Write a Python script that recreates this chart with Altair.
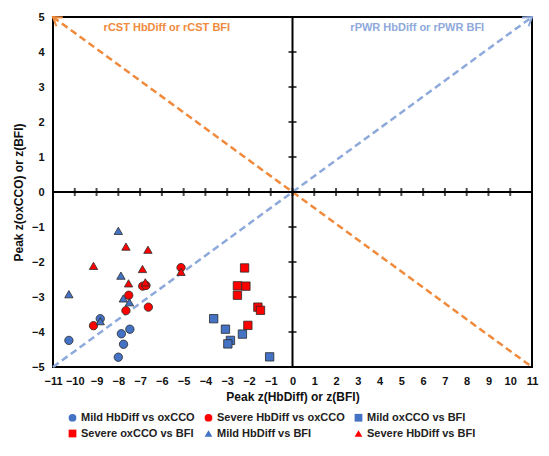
import math
import altair as alt
import pandas as pd

# ---------------- data ----------------
series_names = ["Mild HbDiff vs oxCCO", "Severe HbDiff vs oxCCO", "Mild oxCCO vs BFI",
                "Severe oxCCO vs BFI", "Mild HbDiff vs BFI", "Severe HbDiff vs BFI"]
series_colors = ["#4472C4", "#FF0000", "#4472C4", "#FF0000", "#4472C4", "#FF0000"]
series_shapes = ["circle", "circle", "square", "square", "triangle-up", "triangle-up"]

mild_hb_ox_x = [-8.83, -7.47, -7.86, -10.27, -7.76, -8.00]
mild_hb_ox_y = [-3.62, -3.92, -4.05, -4.24, -4.35, -4.72]
severe_hb_ox_x = [-5.12, -6.88, -6.73, -7.52, -6.62, -7.65, -9.14]
severe_hb_ox_y = [-2.16, -2.69, -2.67, -2.95, -3.29, -3.39, -3.82]
mild_ox_bfi_x = [-3.62, -3.08, -2.30, -2.85, -2.97, -1.05]
mild_ox_bfi_y = [-3.62, -3.92, -4.06, -4.24, -4.34, -4.71]
severe_ox_bfi_x = [-2.20, -2.53, -2.14, -2.53, -1.59, -1.47, -2.05]
severe_ox_bfi_y = [-2.17, -2.68, -2.69, -2.95, -3.29, -3.38, -3.81]
mild_hb_bfi_x = [-8.00, -10.27, -7.88, -7.77, -7.49, -8.83]
mild_hb_bfi_y = [-1.11, -2.92, -2.39, -3.04, -3.15, -3.69]
severe_hb_bfi_x = [-7.65, -6.64, -9.14, -6.89, -7.53, -6.76, -5.12]
severe_hb_bfi_y = [-1.56, -1.65, -2.11, -2.20, -2.61, -2.58, -2.28]

x_ticks = list(range(-11, 12))
y_ticks = list(range(-5, 6))

diag_x = [-11, 11]
orange_y = [5, -5]
blue_y = [-5, 5]

note_labels = ["rCST HbDiff or rCST BFI", "rPWR HbDiff or rPWR BFI"]
note_x = [-5.77, 5.73]
note_y = [4.70, 4.70]

ORANGE = "#F08A3C"
LBLUE = "#8EA9DB"

# ---------------- build tables ----------------
xs = [mild_hb_ox_x, severe_hb_ox_x, mild_ox_bfi_x, severe_ox_bfi_x, mild_hb_bfi_x, severe_hb_bfi_x]
ys = [mild_hb_ox_y, severe_hb_ox_y, mild_ox_bfi_y, severe_ox_bfi_y, mild_hb_bfi_y, severe_hb_bfi_y]
rows = []
for k, (name, sx, sy) in enumerate(zip(series_names, xs, ys)):
    for a, b in zip(sx, sy):
        rows.append({"series": name, "x": a, "y": b, "ord": k})
pts = pd.DataFrame(rows)

W, H = 479, 350
xscale = alt.Scale(domain=[-11, 11], nice=False, zero=False)
yscale = alt.Scale(domain=[-5, 5], nice=False, zero=False)

X = alt.X("x:Q", scale=xscale,
          axis=alt.Axis(values=x_ticks, title="Peak z(HbDiff) or z(BFI)", domain=False,
                        ticks=False, grid=False, labelPadding=8, titlePadding=5, format="d",
                        labelOverlap=False, labelFlush=False))
Y = alt.Y("y:Q", scale=yscale,
          axis=alt.Axis(values=y_ticks, title="Peak z(oxCCO) or z(BFI)", domain=False,
                        ticks=False, grid=False, labelPadding=9, titlePadding=6, format="d",
                        labelOverlap=False, labelFlush=False))

orange_df = pd.DataFrame({"x": diag_x, "y": orange_y})
blue_df = pd.DataFrame({"x": diag_x, "y": blue_y})
diag_o = alt.Chart(orange_df).mark_line(strokeDash=[7, 4], strokeWidth=2.5, color=ORANGE).encode(x=X, y=Y)
diag_b = alt.Chart(blue_df).mark_line(strokeDash=[7, 4], strokeWidth=2.5, color=LBLUE).encode(x=X, y=Y)

zero_df = pd.DataFrame({"x": [0], "y": [0]})
vrule = alt.Chart(zero_df).mark_rule(color="black", strokeWidth=2).encode(x=X)
hrule = alt.Chart(zero_df).mark_rule(color="black", strokeWidth=2).encode(y=Y)

xt_df = pd.DataFrame({"x": x_ticks, "y": [0] * len(x_ticks)})
yt_df = pd.DataFrame({"x": [0] * len(y_ticks), "y": y_ticks})
xt = alt.Chart(xt_df).mark_tick(orient="vertical", size=8, thickness=2, color="black").encode(x=X, y=Y)
yt = alt.Chart(yt_df).mark_tick(orient="horizontal", size=8, thickness=2, color="black").encode(x=X, y=Y)

points = alt.Chart(pts).mark_point(filled=True, size=70, stroke="#2b2b2b", strokeWidth=0.8,
                                   opacity=1).encode(
    x=X, y=Y,
    color=alt.Color("series:N", scale=alt.Scale(domain=series_names, range=series_colors),
                    legend=alt.Legend(title=None, orient="none", legendX=14, legendY=395,
                                      columns=3, direction="horizontal", columnPadding=8,
                                      rowPadding=4, labelFontSize=11, labelFontWeight="bold",
                                      labelColor="#222222", symbolSize=60, symbolStrokeWidth=0,
                                      labelOffset=3, padding=0, labelLimit=200)),
    shape=alt.Shape("series:N", scale=alt.Scale(domain=series_names, range=series_shapes)),
    order=alt.Order("ord:Q"),
)

ang = math.degrees(math.atan2(11 * W / 22, 5 * H / 10))
CHEV = "M -1 1.5 L 0 0 L 1 1.5"
arrow_o = alt.Chart(pd.DataFrame({"x": [diag_x[0]], "y": [orange_y[0]]})).mark_point(
    shape=CHEV, filled=False, size=120, strokeWidth=2, stroke=ORANGE, opacity=1,
    angle=360 - ang).encode(x=X, y=Y)
arrow_b = alt.Chart(pd.DataFrame({"x": [diag_x[1]], "y": [blue_y[1]]})).mark_point(
    shape=CHEV, filled=False, size=120, strokeWidth=2, stroke=LBLUE, opacity=1,
    angle=ang).encode(x=X, y=Y)

notes_o = alt.Chart(pd.DataFrame({"x": [note_x[0]], "y": [note_y[0]], "t": [note_labels[0]]})).mark_text(
    fontSize=11, fontWeight="bold", color=ORANGE).encode(x=X, y=Y, text="t:N")
notes_b = alt.Chart(pd.DataFrame({"x": [note_x[1]], "y": [note_y[1]], "t": [note_labels[1]]})).mark_text(
    fontSize=11, fontWeight="bold", color=LBLUE).encode(x=X, y=Y, text="t:N")

chart = alt.layer(diag_o, diag_b, vrule, hrule, xt, yt, points, arrow_o, arrow_b,
                  notes_o, notes_b).properties(
    width=W, height=H,
    autosize=alt.AutoSizeParams(type="none"),
    padding={"left": 45, "top": 9, "right": 9, "bottom": 77}
).configure(font="Liberation Sans").configure_view(
    stroke="black", strokeWidth=2
).configure_axis(
    labelFontSize=11, labelFontWeight="bold", labelColor="#111111",
    titleFontSize=12, titleFontWeight="bold", titleColor="#111111"
)

chart.save("out.html", embed_options={"renderer": "svg", "actions": False})
